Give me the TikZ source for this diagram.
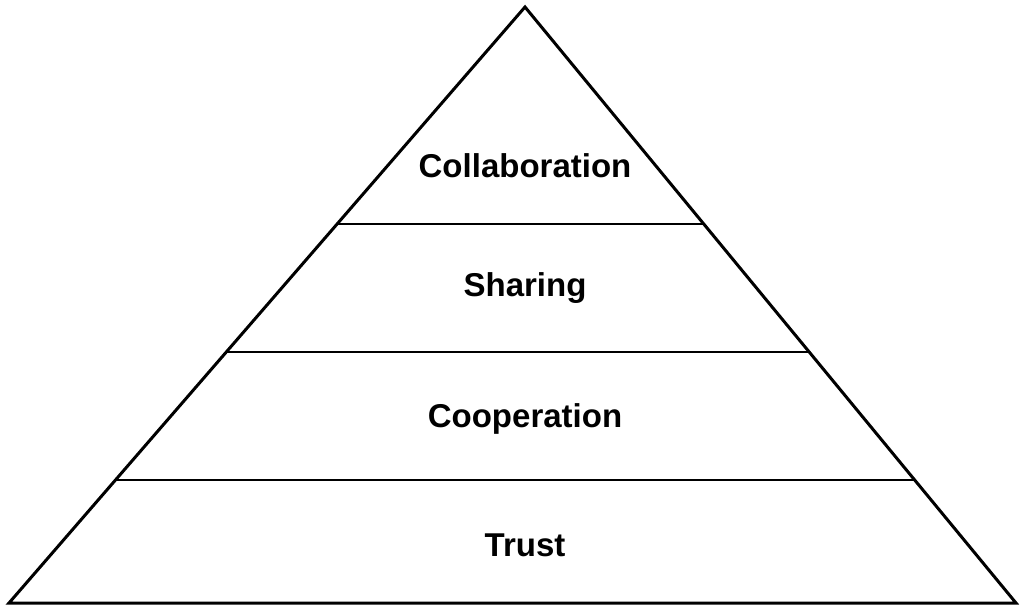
\documentclass[tikz,border=0pt]{standalone}
\usepackage{fontspec}
\setmainfont{Liberation Sans}
\usetikzlibrary{calc}
\begin{document}
\begin{tikzpicture}[x=1pt,y=-1pt,
  outline/.style={line width=3pt,line join=miter},
  divider/.style={line width=2pt},
  layertext/.style={font=\fontsize{33}{36}\selectfont\bfseries,inner sep=0pt,anchor=center}]
  \useasboundingbox (0,0) rectangle (1023,607);
  % pyramid corners
  \coordinate (apex) at (525,7);
  \coordinate (bl) at (9,603);
  \coordinate (br) at (1016,603);
  \draw[outline] (bl) -- (apex) -- (br) -- cycle;
  % layer dividers at y = 224, 352, 480
  \foreach \name/\yy in {d1/224,d2/352,d3/480}{
    \pgfmathsetmacro{\t}{(\yy-7)/596}
    \coordinate (\name l) at ($(apex)!\t!(bl)$);
    \coordinate (\name r) at ($(apex)!\t!(br)$);
    \draw[divider] (\name l) -- (\name r);
  }
  % layer labels
  \node[layertext] (collab) at (525,166) {Collaboration};
  \node[layertext] (share) at (525,288) {Sharing};
  \node[layertext] (coop) at (525,419) {Cooperation};
  \node[layertext] (trust) at (525,545) {Trust};
\end{tikzpicture}
\end{document}
